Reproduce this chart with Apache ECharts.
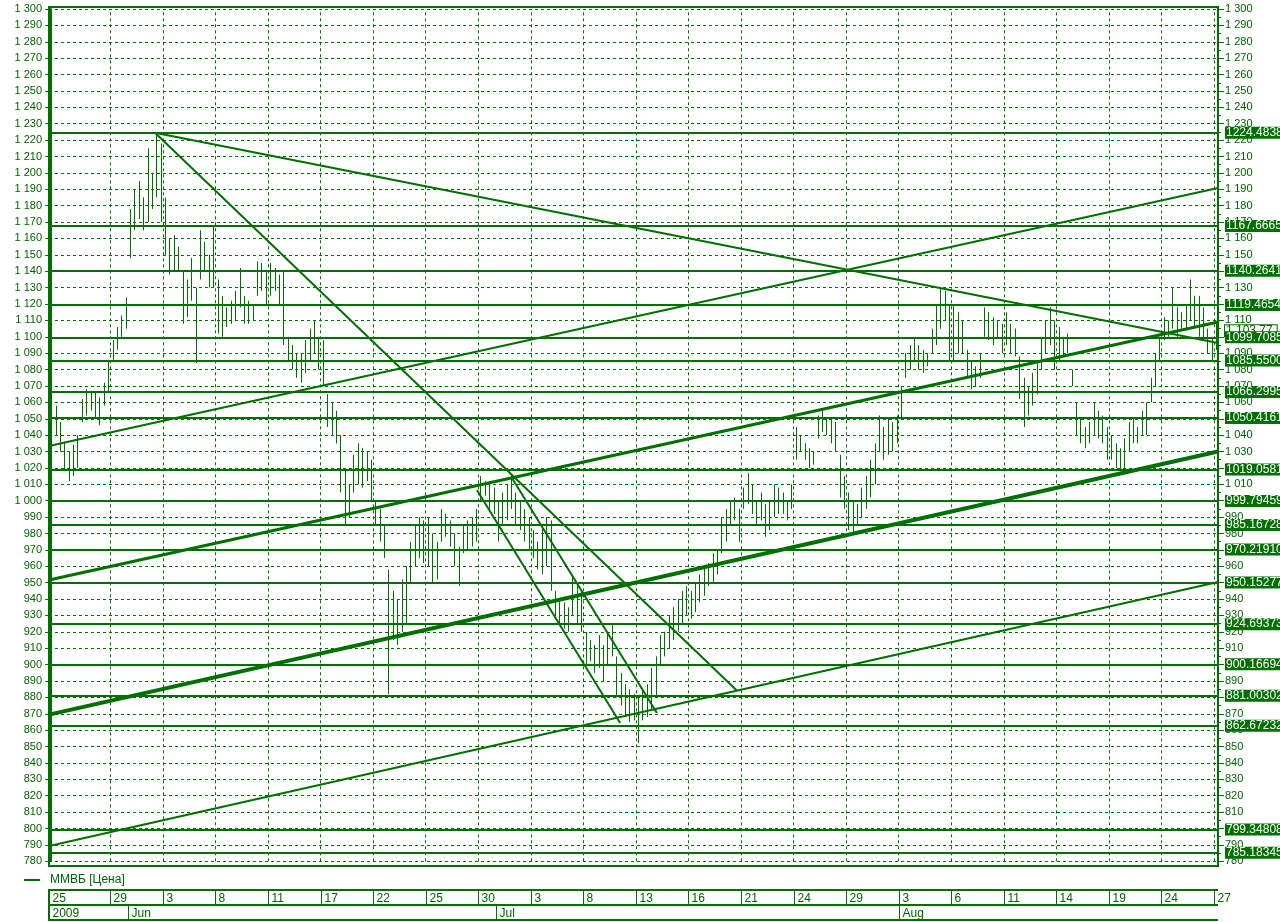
<!DOCTYPE html>
<html><head><meta charset="utf-8">
<script src="https://cdn.jsdelivr.net/npm/echarts/dist/echarts.min.js"></script>
<style>html,body{margin:0;padding:0;background:#fff}#c{width:1280px;height:922px}</style>
</head><body><div id="c"></div>
<script>
// ---- data (bar index = slot, ~4 bars per trading day) ----
const barHigh = [
 1057,1058,1048,1036,1030,1034,1040,1062,1068,1067,1066,1063,1072,1086,
 1098,1106,1113,1124,1178,1190,1195,1185,1215,1200,1224,1218,
 1185,1160,1162,1155,1140,1135,1148,1130,1165,1158,1150,1168,
 1135,1125,1118,1122,1128,1142,1125,1122,1120,1146,1145,1140,
 1145,1142,1138,1140,1100,1095,1090,1090,1098,1105,1110,1100,
 1098,1065,1060,1055,1040,1020,1010,1028,1035,1032,1030,1025,
 1000,995,985,958,945,940,952,960,975,985,990,988,
 990,980,975,995,992,988,980,972,985,988,990,995,
 1015,1012,1010,1008,1000,1005,1010,1016,1005,1000,995,990,
 982,975,985,990,988,945,940,938,935,955,950,945,
 920,915,912,918,912,920,925,905,895,888,885,882,
 880,885,888,898,905,918,920,930,935,940,945,948,
 945,950,955,960,962,968,970,990,995,1000,1002,995,
 1008,1017,1010,1000,1005,998,1000,1010,1008,1005,1000,1010,
 1045,1040,1035,1032,1030,1052,1055,1050,1050,1048,1028,1015,
 1005,1000,998,1008,1015,1025,1035,1052,1045,1050,1048,1052,
 1070,1090,1095,1100,1095,1092,1090,1105,1120,1130,1128,1120,
 1120,1115,1110,1092,1085,1082,1090,1118,1115,1112,1110,1108,
 1115,1108,1105,1088,1075,1070,1078,1085,1100,1110,1118,1110,
 1106,1100,1102,1080,1060,1050,1045,1048,1060,1055,1052,1045,
 1040,1035,1032,1038,1048,1050,1045,1055,1060,1075,1090,1100,
 1112,1110,1130,1118,1115,1120,1135,1125,1125,1118,1105,1100,1108
];
const barLow = [
 1045,1040,1030,1018,1012,1015,1020,1048,1052,1055,1050,1046,1058,1066,
 1086,1092,1100,1105,1148,1165,1172,1165,1170,1178,1185,1170,
 1150,1138,1140,1140,1108,1112,1122,1084,1135,1140,1130,1130,
 1102,1100,1106,1108,1110,1118,1108,1108,1110,1125,1128,1120,
 1125,1128,1120,1095,1085,1080,1075,1072,1078,1085,1090,1080,
 1070,1045,1040,1035,1005,985,990,1005,1010,1008,1012,1000,
 985,975,965,882,915,912,920,925,950,960,965,962,
 960,950,952,975,978,972,960,948,968,970,972,975,
 1000,1003,995,992,975,985,988,995,985,982,975,970,
 965,958,955,960,945,930,925,922,920,930,925,920,
 900,902,895,898,890,900,905,880,875,868,865,866,
 852,866,868,872,880,900,905,910,915,920,925,930,
 928,932,938,942,948,950,955,968,975,985,988,975,
 995,998,992,985,988,978,982,990,992,992,988,995,
 1025,1030,1025,1020,1022,1038,1042,1040,1035,1030,1002,995,
 982,980,985,990,995,1002,1010,1030,1025,1028,1030,1035,
 1050,1075,1080,1085,1080,1078,1082,1090,1095,1105,1110,1085,
 1085,1090,1090,1075,1068,1070,1075,1100,1098,1095,1100,1090,
 1095,1090,1088,1062,1045,1052,1058,1065,1080,1090,1095,1080,
 1085,1088,1090,1070,1040,1035,1032,1035,1040,1038,1035,1025,
 1025,1020,1018,1020,1030,1035,1035,1040,1040,1060,1070,1085,
 1098,1100,1105,1100,1105,1105,1110,1105,1100,1098,1090,1085,1092
];
const dayLabels = ['25','29','3','8','11','17','22','25','30','3','8','13','16','21','24','29','3','6','11','14','19','24','27'];
const dayPos = [-0.5,13.5,25.5,37.5,49.5,61.5,73.5,85.5,97.5,109.5,121.5,133.5,145.5,157.5,169.5,181.5,193.5,205.5,217.5,229.5,241.5,253.5,265.5];
const monthLabels = ['2009','Jun','Jul','Aug'];
const monthPos = [-0.5,17.5,101.5,193.5];
const levelValues = [1224.48386,1167.66659,1140.26415,1119.46547,1099.70854,1085.55008,1066.29958,1050.41612,1019.05811,999.79459,985.16728,970.21910,950.15277,924.69373,900.16694,881.00302,862.67232,799.34808,785.18345];
const lastPrice = 1103.77;
const lastPriceText = '1 103.77';
const seriesName = 'ММВБ [Цена]';
// trend lines: [[slot, price],[slot, price]]
const trendLines = [
 [[23.7,1224.5],[266.4,1096.2]],
 [[23.7,1224.5],[156.6,884.0]],
 [[-0.5,789.3],[266.4,950.4]],
 [[-0.5,1033.4],[266.4,1190.8]],
 [[-0.5,951.6],[266.4,1109.0]],
 [[-0.5,869.5],[266.4,1030.0]],
 [[97.2,1006.5],[129.9,864.4]],
 [[105.2,1013.9],[138.3,870.5]]
];
const trendWidths = [2,2,2,2,3,4,2,2];

// ---- chart ----
const GREEN = '#007000';
const TXT = '#006400';
const FONT = 'Liberation Sans';
const chart = echarts.init(document.getElementById('c'));
const fmtAxis = v => v >= 1000 ? '1 ' + String(v).slice(1) : String(v);
const bars = barHigh.map((h, i) => [i, barLow[i], h]);

const yAxisCommon = {
  type: 'value', gridIndex: 0, min: 780, max: 1300, interval: 10,
  axisLine: {show: true, lineStyle: {color: GREEN, width: 2}},
  axisTick: {show: true, length: 6, lineStyle: {color: GREEN, width: 1}},
  minorTick: {show: true, splitNumber: 2, length: 3, lineStyle: {color: GREEN, width: 1}},
  axisLabel: {color: TXT, fontSize: 11, fontFamily: FONT, margin: 7, formatter: fmtAxis}
};

const series = [];
series.push({
  name: seriesName, type: 'custom', xAxisIndex: 0, yAxisIndex: 0, color: GREEN, z: 3,
  data: bars,
  renderItem: (params, api) => {
    const x = api.value(0);
    const p1 = api.coord([x, api.value(2)]);
    const p2 = api.coord([x, api.value(1)]);
    const xr = Math.round(p1[0]) + 0.5;
    return {type: 'line', shape: {x1: xr, y1: p1[1], x2: xr, y2: p2[1]}, style: {stroke: GREEN, lineWidth: 1}};
  }
});
series.push({
  type: 'line', xAxisIndex: 0, yAxisIndex: 0, data: [], silent: true, z: 1,
  markLine: {silent: true, symbol: ['none','none'], label: {show: false},
    lineStyle: {color: GREEN, type: [3,3], width: 1}, emphasis: {disabled: true},
    data: dayPos.slice(1).map(v => ({xAxis: v}))}
});
// current price box (no visible line)
series.push({
  type: 'line', xAxisIndex: 0, yAxisIndex: 0, data: [], silent: true, z: 4,
  markLine: {silent: true, symbol: ['none','none'], animation: false,
    lineStyle: {color: 'rgba(0,0,0,0)', width: 1, type: 'solid'}, emphasis: {disabled: true},
    label: {show: true, position: 'end', distance: 7, formatter: '{b}', color: TXT, backgroundColor: '#fff',
      borderColor: GREEN, borderWidth: 1, padding: [0,4,0,1], lineHeight: 11, fontSize: 12, fontFamily: FONT},
    data: [{yAxis: lastPrice, name: lastPriceText}]}
});
series.push({
  type: 'line', xAxisIndex: 0, yAxisIndex: 0, data: [], silent: true, z: 5,
  markLine: {silent: true, symbol: ['none','none'], animation: false,
    label: {show: true, position: 'end', distance: 7, formatter: '{b}', color: '#fff', backgroundColor: GREEN,
      padding: [1,1,0,1], lineHeight: 11, fontSize: 12, fontFamily: FONT},
    lineStyle: {color: GREEN, width: 2, type: 'solid'}, emphasis: {disabled: true},
    data: levelValues.map(v => ({yAxis: v, name: v.toFixed(5)}))}
});
trendLines.forEach((seg, i) => {
  series.push({type: 'line', xAxisIndex: 0, yAxisIndex: 0, data: seg, symbol: 'none', silent: true, z: 5,
    lineStyle: {color: GREEN, width: trendWidths[i]}});
});
series.push({
  type: 'custom', xAxisIndex: 1, yAxisIndex: 2, silent: true,
  data: dayPos.map((p, i) => [p, i]),
  renderItem: (params, api) => {
    const x = Math.round(api.coord([api.value(0), 2])[0]) + 0.5;
    const top = api.coord([0, 2])[1], mid = api.coord([0, 1])[1];
    return {type: 'group', children: [
      {type: 'line', shape: {x1: x, y1: top, x2: x, y2: mid}, style: {stroke: GREEN, lineWidth: 1}},
      {type: 'text', x: x + 3, y: (top + mid) / 2 + 1, style: {text: dayLabels[api.value(1)], fill: TXT, font: '12px ' + FONT, verticalAlign: 'middle', align: 'left'}}
    ]};
  }
});
series.push({
  type: 'custom', xAxisIndex: 1, yAxisIndex: 2, silent: true,
  data: monthPos.map((p, i) => [p, i]),
  renderItem: (params, api) => {
    const x = Math.round(api.coord([api.value(0), 1])[0]) + 0.5;
    const mid = api.coord([0, 1])[1], bot = api.coord([0, 0])[1];
    return {type: 'group', children: [
      {type: 'line', shape: {x1: x, y1: mid, x2: x, y2: bot}, style: {stroke: GREEN, lineWidth: 1}},
      {type: 'text', x: x + 3, y: (mid + bot) / 2 + 1, style: {text: monthLabels[api.value(1)], fill: TXT, font: '12px ' + FONT, verticalAlign: 'middle', align: 'left'}}
    ]};
  }
});

chart.setOption({
  animation: false,
  backgroundColor: '#fff',
  grid: [{left: 49, top: 9, width: 1169, height: 852.3}, {left: 49, top: 890, width: 1169, height: 30}],
  xAxis: [
    {type: 'value', gridIndex: 0, min: -0.5, max: 266.4, show: false},
    {type: 'value', gridIndex: 1, min: -0.5, max: 266.4, show: false}
  ],
  yAxis: [
    Object.assign({}, yAxisCommon, {position: 'left', splitLine: {show: true, lineStyle: {color: GREEN, type: [3,3], width: 1}}}),
    Object.assign({}, yAxisCommon, {position: 'right', splitLine: {show: false}}),
    {type: 'value', gridIndex: 1, min: 0, max: 2, show: false}
  ],
  legend: {left: 24, top: 874, padding: 0, icon: 'rect', itemWidth: 16, itemHeight: 2, itemGap: 6,
    textStyle: {color: TXT, fontSize: 12, fontFamily: FONT, padding: [0,0,0,5]}, data: [seriesName], selectedMode: false},
  graphic: [
    {type: 'rect', shape: {x: 49, y: 7, width: 1169, height: 859}, style: {fill: null, stroke: GREEN, lineWidth: 2}, z: 10, silent: true},
    {type: 'line', shape: {x1: 49, y1: 890, x2: 1218, y2: 890}, style: {stroke: GREEN, lineWidth: 2}, silent: true},
    {type: 'line', shape: {x1: 49, y1: 905, x2: 1218, y2: 905}, style: {stroke: GREEN, lineWidth: 2}, silent: true},
    {type: 'line', shape: {x1: 49, y1: 920, x2: 1218, y2: 920}, style: {stroke: GREEN, lineWidth: 2}, silent: true},
    {type: 'line', shape: {x1: 49, y1: 889, x2: 49, y2: 921}, style: {stroke: GREEN, lineWidth: 2}, silent: true}
  ],
  series: series
});
</script></body></html>
